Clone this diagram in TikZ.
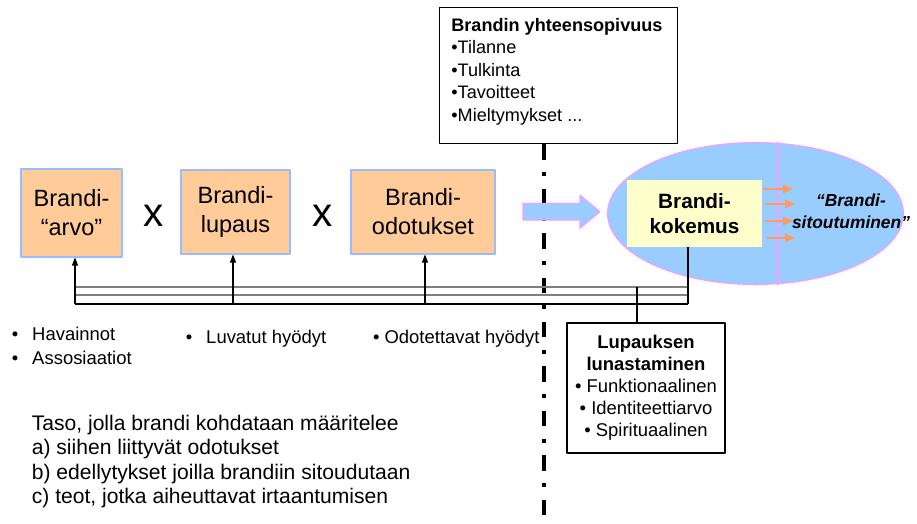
\documentclass[tikz,border=0pt]{standalone}
\usepackage{fontspec}
\setmainfont{Liberation Sans}
\usetikzlibrary{arrows.meta,shapes.geometric}
\definecolor{brfill}{HTML}{FFCC99}
\definecolor{bredge}{HTML}{99BBFF}
\definecolor{skyblue}{HTML}{99CCFF}
\definecolor{pinkline}{HTML}{FF99FF}
\definecolor{kokfill}{HTML}{FFFFCC}
\definecolor{orarrow}{HTML}{FF9966}
\newcommand{\fsz}[2]{\fontsize{#1}{#2}\selectfont}
\newcommand{\blt}{\textbullet\hspace{8pt}}

\begin{document}
\begin{tikzpicture}[x=0.02cm, y=-0.02cm, >={Triangle[length=0.16cm,width=0.12cm]}, line join=round,
	brbox/.style={draw=bredge, fill=brfill, line width=0.6pt, align=center, inner sep=0pt, font=\fsz{13.4}{16.6}},
	bus/.style={line width=0.6pt},
	plain/.style={inner sep=0pt, align=left, font=\fsz{10.5}{13.7}}]
	\useasboundingbox (0,0) rectangle (917,524);
	% brandilaatikot
	\node[brbox, minimum width=2.02cm, minimum height=1.76cm] (arvo) at (71.5,213) {Brandi-\\“arvo”};
	\node[brbox, minimum width=2.18cm, minimum height=1.68cm] (lupaus) at (235.5,212) {Brandi-\\lupaus};
	\node[brbox, minimum width=2.88cm, minimum height=1.68cm] (odotus) at (423,212) {Brandi-\\odotukset};
	\node[inner sep=0pt, font=\fsz{23}{26}] (x1) at (154,216.2) {x};
	\node[inner sep=0pt, font=\fsz{23}{26}] (x2) at (322.5,216.2) {x};
	% yhteensopivuus
	\node[draw, line width=0.6pt, anchor=north west, minimum width=4.76cm, minimum height=2.72cm, inner sep=0pt] (sopivuus) at (439,7) {};
	\node[anchor=north west, inner sep=0pt, align=left, font=\fsz{10.3}{12.8}] (sopivuusteksti) at (451,17.7) {\textbf{Brandin yhteensopivuus}\\•Tilanne\\•Tulkinta\\•Tavoitteet\\•Mieltymykset ...};
	\coordinate (viiva) at (544,524);
	\draw[line width=0.074cm, dash pattern=on 0.31cm off 0.25cm on 0.08cm off 0.25cm] (sopivuus.south -| viiva) -- (viiva);
	% kokemus
	\node[ellipse, draw=pinkline, fill=skyblue, line width=0.6pt, minimum width=5.92cm, minimum height=2.84cm, inner sep=0pt] (kokemusala) at (755.5,213.5) {};
	\coordinate (raja) at (778,0);
	\draw[pinkline, line width=1.1pt] (kokemusala.north -| raja) -- (kokemusala.south -| raja);
	\draw[pinkline, fill=skyblue, line width=0.6pt] (523,203.3) -- (580,203.3) -- (580,195) -- (600,211.7) -- (580,228.3) -- (580,220) -- (523,220) -- cycle;
	\node[fill=kokfill, minimum width=2.7cm, minimum height=1.34cm, inner sep=0pt, align=center, font=\bfseries\fsz{11.8}{14.2}] (kokemus) at (694.5,213.5) {Brandi-\\kokemus};
	\foreach \y/\a/\b in {189/763/793, 204/765/795, 221/765/793, 238/767/795}
		\draw[->, >={Triangle[length=0.2cm,width=0.17cm]}, orarrow, line width=0.8pt] (\a,\y) -- (\b,\y);
	\node[inner sep=0pt, align=center, font=\bfseries\itshape\fsz{9.9}{12.3}] (sitout) at (851,211.5) {“Brandi-\\sitoutuminen”};
	% lunastus
	\node[draw, line width=0.6pt, minimum width=3.16cm, minimum height=2.6cm, inner sep=0pt, align=center, font=\fsz{10.5}{12.5}] (lunastus) at (646,388) {\textbf{Lupauksen}\\\textbf{lunastaminen}\\• Funktionaalinen\\• Identiteettiarvo\\• Spirituaalinen};
	% kiskot
	\coordinate (v1) at (75,304); \coordinate (v2) at (233,304);
	\coordinate (v3) at (425,304); \coordinate (v4) at (688,304);
	\coordinate (busa) at (75,287); \coordinate (busb) at (75,295);
	\coordinate (v5) at (637,287);
	\draw[bus, gray] (busa) -- (busa -| v4);
	\draw[bus, gray] (busb) -- (busb -| v4);
	\draw[bus] (v1) -- (v4);
	\draw[bus, ->] (v1) -- (v1 |- arvo.south);
	\draw[bus, ->] (v2) -- (v2 |- lupaus.south);
	\draw[bus, ->] (v3) -- (v3 |- odotus.south);
	\draw[bus] (kokemus.south -| v4) -- (v4);
	\draw[bus] (v5) -- (v5 |- lunastus.north);
	% tekstit
	\node[plain, anchor=north west] (havainnot) at (11.4,326.8) {\blt Havainnot\\\blt Assosiaatiot};
	\node[plain, anchor=north west] (luvatut) at (185.4,329.3) {\blt Luvatut hyödyt};
	\node[plain, anchor=north west] (odotetut) at (372.7,329.3) {• Odotettavat hyödyt};
	\node[anchor=north west, inner sep=0pt, align=left, font=\fsz{12}{13.9}] (taso) at (31.5,414.7) {Taso, jolla brandi kohdataan määritelee\\a) siihen liittyvät odotukset\\b) edellytykset joilla brandiin sitoudutaan\\c) teot, jotka aiheuttavat irtaantumisen};
\end{tikzpicture}
\end{document}
